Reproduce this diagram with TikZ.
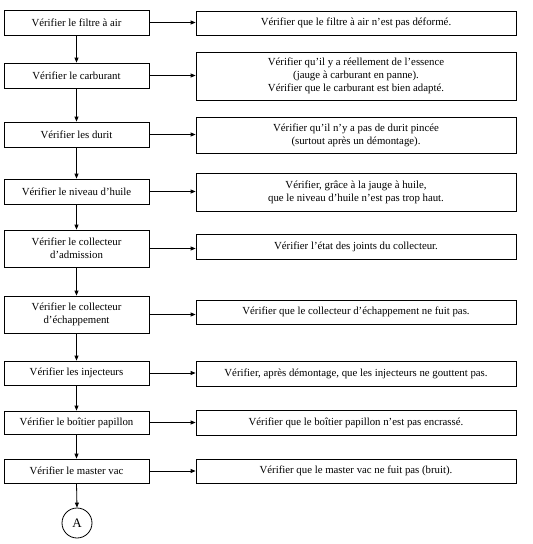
\documentclass[tikz,border=0pt]{standalone}
\usepackage{fontspec}
\setmainfont{Liberation Serif}
\usetikzlibrary{arrows.meta}
\begin{document}
\begin{tikzpicture}[x=1pt,y=-1pt,
  box/.style={draw,line width=0.8pt,inner sep=0pt,align=center,font=\fontsize{10.8}{13}\selectfont},
  arr/.style={-{Triangle[length=5pt,width=4pt]},line width=0.8pt}]
\useasboundingbox (0,0) rectangle (533,544);
% left boxes: center x 76.5, width 145
\def\L#1#2#3#4{\node[box,minimum width=145pt,minimum height=#3pt-#2pt] (#1) at (76.5,{(#2+#3)/2}) {#4};}
\def\R#1#2#3#4{\node[box,minimum width=320pt,minimum height=#3pt-#2pt] (#1) at (356,{(#2+#3)/2}) {#4};}
\L{l1}{10}{35}{Vérifier le filtre à air}
\R{r1}{11}{35}{Vérifier que le filtre à air n’est pas déformé.}
\L{l2}{63}{88}{Vérifier le carburant}
\R{r2}{52}{100}{Vérifier qu’il y a réellement de l’essence\\(jauge à carburant en panne).\\Vérifier que le carburant est bien adapté.}
\L{l3}{122}{147}{Vérifier les durit}
\R{r3}{117}{153}{Vérifier qu’il n’y a pas de durit pincée\\(surtout après un démontage).}
\L{l4}{179}{204}{Vérifier le niveau d’huile}
\R{r4}{173}{211}{Vérifier, grâce à la jauge à huile,\\que le niveau d’huile n’est pas trop haut.}
\L{l5}{230}{267}{Vérifier le collecteur\\d’admission}
\R{r5}{234}{259}{Vérifier l’état des joints du collecteur.}
\L{l6}{296}{333}{Vérifier le collecteur\\d’échappement}
\R{r6}{300}{324}{Vérifier que le collecteur d’échappement ne fuit pas.}
\L{l7}{361}{385}{Vérifier les injecteurs}
\R{r7}{361}{386}{Vérifier, après démontage, que les injecteurs ne gouttent pas.}
\L{l8}{411}{434}{Vérifier le boîtier papillon}
\R{r8}{410}{435}{Vérifier que le boîtier papillon n’est pas encrassé.}
\L{l9}{459}{483}{Vérifier le master vac}
\R{r9}{459}{483}{Vérifier que le master vac ne fuit pas (bruit).}
\node[draw,circle,line width=0.8pt,minimum size=30pt,inner sep=0pt,font=\fontsize{13}{15}\selectfont] (a) at (77,523) {A};
\foreach \i in {1,...,9} {\draw[arr] (l\i.east) -- (l\i.east -| r\i.west);}
\foreach \i/\j in {1/2,2/3,3/4,4/5,5/6,6/7,7/8,8/9} {\draw[arr] (l\i.south) -- (l\j.north);}
\draw[arr] (l9.south) -- (a.north);
\end{tikzpicture}
\end{document}
